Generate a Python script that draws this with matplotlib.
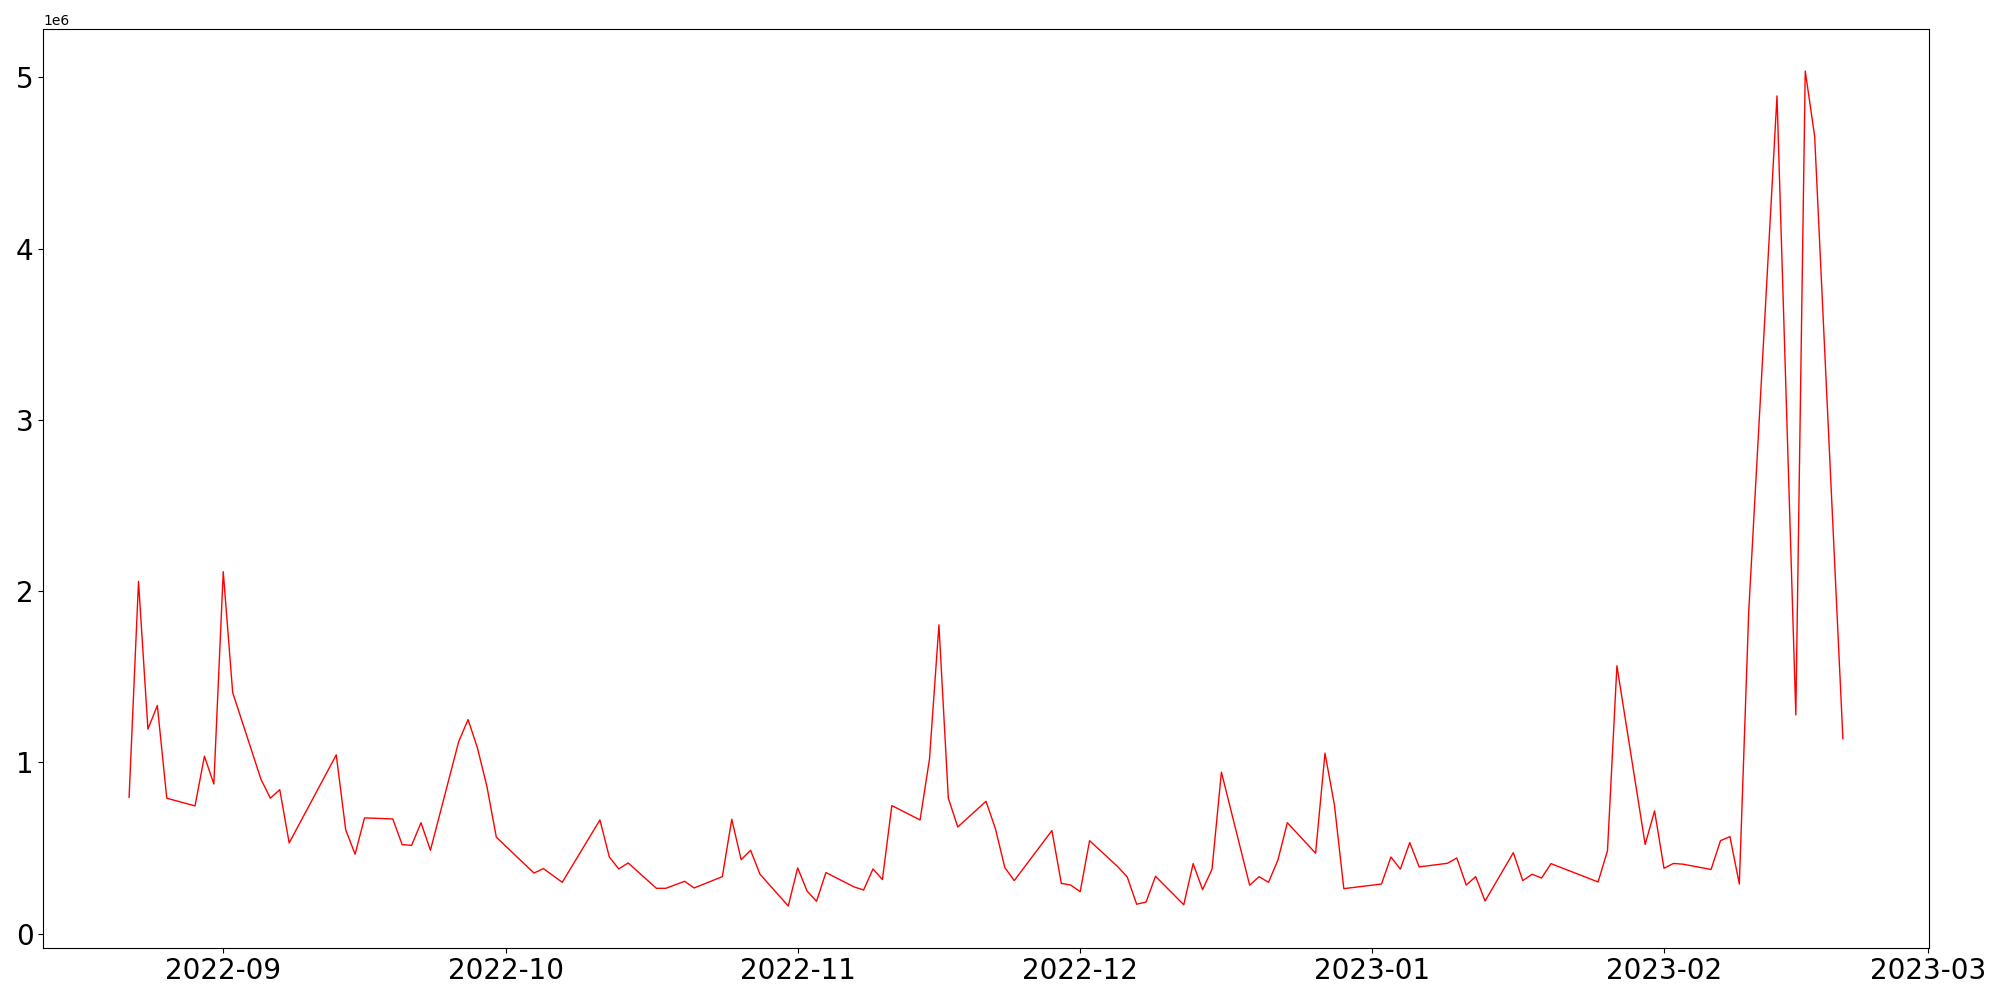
import pandas as pd
from matplotlib import pyplot as plt

# trading days (gaps = weekends / holidays)
dates = ['2022-08-22', '2022-08-23', '2022-08-24', '2022-08-25', '2022-08-26',
         '2022-08-29', '2022-08-30', '2022-08-31', '2022-09-01', '2022-09-02',
         '2022-09-05', '2022-09-06', '2022-09-07', '2022-09-08', '2022-09-13',
         '2022-09-14', '2022-09-15', '2022-09-16', '2022-09-19', '2022-09-20',
         '2022-09-21', '2022-09-22', '2022-09-23', '2022-09-26', '2022-09-27',
         '2022-09-28', '2022-09-29', '2022-09-30', '2022-10-04', '2022-10-05',
         '2022-10-07', '2022-10-11', '2022-10-12', '2022-10-13', '2022-10-14',
         '2022-10-17', '2022-10-18', '2022-10-20', '2022-10-21', '2022-10-24',
         '2022-10-25', '2022-10-26', '2022-10-27', '2022-10-28', '2022-10-31',
         '2022-11-01', '2022-11-02', '2022-11-03', '2022-11-04', '2022-11-07',
         '2022-11-08', '2022-11-09', '2022-11-10', '2022-11-11', '2022-11-14',
         '2022-11-15', '2022-11-16', '2022-11-17', '2022-11-18', '2022-11-21',
         '2022-11-22', '2022-11-23', '2022-11-24', '2022-11-28', '2022-11-29',
         '2022-11-30', '2022-12-01', '2022-12-02', '2022-12-05', '2022-12-06',
         '2022-12-07', '2022-12-08', '2022-12-09', '2022-12-12', '2022-12-13',
         '2022-12-14', '2022-12-15', '2022-12-16', '2022-12-19', '2022-12-20',
         '2022-12-21', '2022-12-22', '2022-12-23', '2022-12-26', '2022-12-27',
         '2022-12-28', '2022-12-29', '2023-01-02', '2023-01-03', '2023-01-04',
         '2023-01-05', '2023-01-06', '2023-01-09', '2023-01-10', '2023-01-11',
         '2023-01-12', '2023-01-13', '2023-01-16', '2023-01-17', '2023-01-18',
         '2023-01-19', '2023-01-20', '2023-01-25', '2023-01-26', '2023-01-27',
         '2023-01-30', '2023-01-31', '2023-02-01', '2023-02-02', '2023-02-03',
         '2023-02-06', '2023-02-07', '2023-02-08', '2023-02-09', '2023-02-10',
         '2023-02-13', '2023-02-15', '2023-02-16', '2023-02-17', '2023-02-20']

# values in millions
volume = [0.797, 2.056, 1.194, 1.332, 0.791,
          0.746, 1.036, 0.874, 2.113, 1.408,
          0.902, 0.791, 0.841, 0.530, 1.044,
          0.607, 0.464, 0.676, 0.670, 0.520,
          0.516, 0.648, 0.487, 1.121, 1.250,
          1.083, 0.859, 0.563, 0.354, 0.380,
          0.300, 0.664, 0.448, 0.378, 0.413,
          0.265, 0.265, 0.306, 0.267, 0.333,
          0.668, 0.432, 0.487, 0.347, 0.162,
          0.384, 0.249, 0.189, 0.357, 0.273,
          0.255, 0.378, 0.316, 0.748, 0.664,
          1.020, 1.803, 0.791, 0.623, 0.773,
          0.613, 0.386, 0.310, 0.602, 0.294,
          0.284, 0.245, 0.543, 0.391, 0.331,
          0.172, 0.185, 0.335, 0.169, 0.409,
          0.257, 0.376, 0.943, 0.283, 0.333,
          0.300, 0.430, 0.648, 0.470, 1.054,
          0.752, 0.263, 0.290, 0.448, 0.377,
          0.532, 0.390, 0.411, 0.442, 0.284,
          0.333, 0.191, 0.473, 0.310, 0.347,
          0.325, 0.409, 0.302, 0.485, 1.564,
          0.521, 0.717, 0.382, 0.410, 0.406,
          0.375, 0.543, 0.567, 0.290, 1.883,
          4.891, 1.277, 5.036, 4.655, 1.138]

x = pd.to_datetime(dates)
y = [v * 1e6 for v in volume]

fig, ax = plt.subplots(figsize=(20, 10), dpi=100)
ax.plot(x, y, color='red', linewidth=1)
ax.tick_params(axis='both', labelsize=20)

plt.subplots_adjust(left=0.0217, right=0.9643, top=0.9707, bottom=0.0523)
plt.savefig('out.png')
